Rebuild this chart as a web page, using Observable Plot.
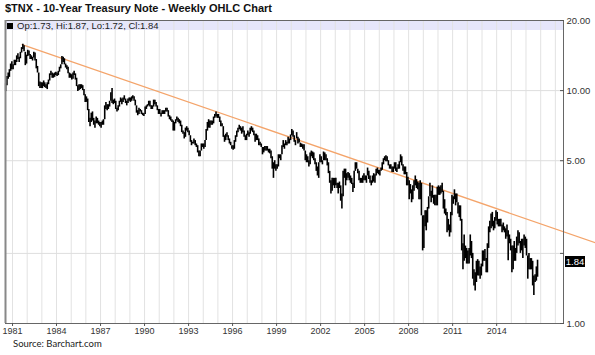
<!DOCTYPE html>
<html>
<head>
<meta charset="utf-8">
<script src="https://cdn.jsdelivr.net/npm/d3@7"></script>
<script src="https://cdn.jsdelivr.net/npm/@observablehq/plot@0.6"></script>
<style>
  body { margin: 0; background: #fff; }
  #wrap { position: relative; width: 595px; height: 355px; overflow: hidden; font-family: "Liberation Sans", Arial, sans-serif; }
  #band { position: absolute; left: 5px; top: 20px; width: 558px; height: 10px; background: #e6e6fa; }
  #chart { position: absolute; left: 0; top: 0; }
  #title { position: absolute; left: 5px; top: 3px; font-size: 11px; line-height: 11px; font-weight: bold; color: #111; white-space: nowrap; }
  #legend { position: absolute; left: 7px; top: 20.7px; font-size: 9.5px; line-height: 9.5px; color: #222; white-space: nowrap; }
  #legend .sq { display: inline-block; width: 6px; height: 6px; background: #000; margin-right: 4px; }
  #caption { position: absolute; left: 13px; top: 338.9px; font-family: Lato, "Liberation Sans", sans-serif; font-size: 9.5px; line-height: 9.5px; color: #222; white-space: nowrap; }
  #last { position: absolute; left: 565px; width: 20px; height: 11px; background: #000; color: #fff; font-size: 9.5px; line-height: 11px; text-align: center; }
</style>
</head>
<body>
<div id="wrap">
  <div id="band"></div>
  <div id="chart"></div>
  <div id="title"></div>
  <div id="legend"></div>
  <div id="caption"></div>
  <div id="last"></div>
</div>
<script>
// ---- Text ----
const titleText = "$TNX - 10-Year Treasury Note - Weekly OHLC Chart";
const captionText = "Source: Barchart.com";
const lastOpen = 1.73, lastHigh = 1.87, lastLow = 1.72, lastClose = 1.84;

// ---- Monthly low/high of the weekly bars, starting July 1980 ----
const startYear = 1980, startMonth = 6; // July (0-based)
const lows = [
  9.9, 10.5, 11.2, 11.4, 12.1, 12.3,
  12.3, 12.8, 12.8, 13.2, 13.6, 13.2, 13.7, 14.5, 15.0, 14.7, 12.8, 13.0,
  14.0, 14.1, 13.6, 13.6, 13.4, 13.8, 13.4, 12.4, 11.9, 10.4, 10.2, 10.2,
  10.2, 10.4, 10.3, 10.2, 10.1, 10.6, 11.0, 11.6, 11.3, 11.3, 11.4, 11.6,
  11.5, 11.6, 12.0, 12.4, 12.9, 13.2, 12.9, 12.5, 12.3, 11.8, 11.3, 11.3,
  11.1, 11.2, 11.6, 11.1, 10.4, 9.9, 10.0, 10.1, 10.2, 10.0, 9.5, 8.9,
  8.9, 8.2, 7.3, 7.0, 7.3, 7.4, 7.1, 6.9, 7.2, 7.2, 7.1, 7.0,
  6.9, 7.1, 7.1, 7.5, 8.3, 8.2, 8.3, 8.5, 9.0, 8.8, 8.7, 8.8,
  8.3, 8.1, 8.2, 8.5, 8.9, 8.7, 8.9, 9.1, 8.8, 8.6, 8.8, 9.0,
  8.9, 9.0, 9.2, 9.0, 8.6, 8.0, 7.8, 7.9, 8.1, 7.9, 7.8, 7.75,
  7.9, 8.3, 8.5, 8.6, 8.5, 8.3, 8.3, 8.5, 8.7, 8.5, 8.2, 7.9,
  7.9, 7.7, 7.9, 7.9, 7.9, 8.1, 8.1, 7.7, 7.5, 7.4, 7.3, 6.7,
  6.7, 7.2, 7.4, 7.3, 7.2, 7.0, 6.6, 6.5, 6.2, 6.3, 6.7, 6.6,
  6.4, 6.0, 5.8, 5.9, 5.9, 5.8, 5.7, 5.4, 5.2, 5.2, 5.5, 5.7,
  5.6, 5.7, 6.1, 6.7, 6.9, 6.9, 7.1, 7.1, 7.2, 7.6, 7.7, 7.6,
  7.6, 7.3, 7.0, 7.0, 6.3, 6.0, 6.1, 6.3, 6.1, 5.9, 5.8, 5.6,
  5.55, 5.6, 6.0, 6.3, 6.6, 6.8, 6.7, 6.5, 6.6, 6.3, 6.1, 6.1,
  6.4, 6.3, 6.5, 6.7, 6.6, 6.4, 6.0, 6.1, 6.1, 5.8, 5.8, 5.7,
  5.3, 5.4, 5.5, 5.5, 5.5, 5.4, 5.35, 5.1, 4.6, 4.2, 4.6, 4.5,
  4.6, 4.7, 5.1, 5.0, 5.3, 5.7, 5.6, 5.8, 5.8, 5.9, 5.9, 6.1,
  6.4, 6.3, 6.0, 5.8, 6.2, 5.9, 5.95, 5.7, 5.7, 5.6, 5.5, 5.0,
  4.9, 4.9, 4.7, 4.8, 5.2, 5.1, 5.0, 4.8, 4.5, 4.3, 4.2, 4.9,
  4.9, 4.8, 5.0, 5.0, 5.0, 4.75, 4.4, 4.0, 3.6, 3.7, 3.9, 3.8,
  3.9, 3.8, 3.6, 3.8, 3.35, 3.1, 3.5, 4.2, 3.9, 4.1, 4.2, 4.1,
  4.0, 3.95, 3.65, 3.8, 4.5, 4.6, 4.4, 4.1, 4.0, 4.0, 4.0, 4.1,
  4.1, 4.0, 4.3, 4.15, 4.0, 3.9, 4.0, 4.05, 4.0, 4.3, 4.4, 4.35,
  4.3, 4.5, 4.55, 4.8, 5.0, 4.95, 4.95, 4.75, 4.6, 4.6, 4.45, 4.45,
  4.6, 4.5, 4.45, 4.6, 4.6, 4.9, 4.75, 4.5, 4.35, 4.35, 3.9, 3.9,
  3.4, 3.6, 3.3, 3.4, 3.7, 3.9, 3.8, 3.75, 3.4, 3.4, 2.9, 2.05,
  2.1, 2.6, 2.5, 2.7, 3.1, 3.5, 3.3, 3.45, 3.25, 3.2, 3.2, 3.2,
  3.55, 3.55, 3.6, 3.65, 3.1, 2.95, 2.9, 2.45, 2.5, 2.35, 2.45, 2.9,
  3.25, 3.4, 3.2, 3.3, 2.95, 2.85, 2.75, 2.05, 1.7, 1.85, 1.9, 1.8,
  1.8, 1.8, 1.95, 1.9, 1.55, 1.45, 1.38, 1.5, 1.6, 1.6, 1.55, 1.6,
  1.75, 1.85, 1.85, 1.65, 1.65, 2.1, 2.45, 2.55, 2.6, 2.5, 2.55, 2.75,
  2.65, 2.6, 2.6, 2.6, 2.45, 2.5, 2.45, 2.3, 2.35, 1.86, 2.2, 2.05,
  1.65, 1.7, 1.85, 1.85, 2.0, 2.15, 2.2, 2.0, 2.05, 1.9, 2.15, 2.1,
  1.95, 1.55, 1.7, 1.7, 1.7, 1.45, 1.32, 1.5, 1.52, 1.58
];
const highs = [
  10.7, 11.5, 11.9, 12.3, 13.0, 13.3,
  12.9, 13.5, 13.5, 14.1, 14.4, 13.9, 14.6, 15.3, 15.8, 15.6, 14.6, 14.2,
  14.9, 14.8, 14.3, 14.1, 13.9, 14.6, 14.5, 13.6, 12.7, 11.9, 10.9, 10.8,
  10.8, 11.0, 10.8, 10.6, 10.8, 11.1, 11.8, 12.1, 11.9, 11.8, 11.9, 12.0,
  11.9, 12.1, 12.6, 12.9, 14.0, 13.9, 13.7, 13.0, 12.8, 12.6, 11.9, 11.8,
  11.7, 11.9, 12.1, 11.8, 11.3, 10.5, 10.6, 10.6, 10.6, 10.5, 10.1, 9.6,
  9.4, 9.2, 8.3, 7.6, 8.0, 8.1, 7.6, 7.4, 7.7, 7.6, 7.4, 7.3,
  7.3, 7.4, 7.5, 8.6, 8.9, 8.7, 8.7, 9.0, 9.8, 10.2, 9.1, 9.2,
  9.0, 8.4, 8.6, 9.0, 9.3, 9.2, 9.3, 9.5, 9.2, 9.0, 9.2, 9.3,
  9.3, 9.4, 9.5, 9.4, 9.1, 8.6, 8.2, 8.4, 8.3, 8.2, 8.0, 7.95,
  8.5, 8.6, 8.7, 9.0, 9.0, 8.6, 8.6, 9.1, 9.1, 8.9, 8.6, 8.3,
  8.3, 8.0, 8.2, 8.2, 8.2, 8.4, 8.4, 8.2, 7.8, 7.7, 7.5, 7.4,
  7.3, 7.5, 7.7, 7.6, 7.5, 7.4, 7.1, 6.7, 6.6, 6.9, 7.0, 6.9,
  6.7, 6.4, 6.1, 6.0, 6.2, 6.1, 5.9, 5.8, 5.5, 5.5, 5.9, 5.9,
  5.9, 6.1, 6.8, 7.3, 7.5, 7.4, 7.4, 7.4, 7.7, 7.9, 8.1, 7.9,
  7.9, 7.7, 7.4, 7.2, 7.0, 6.4, 6.5, 6.6, 6.4, 6.2, 6.0, 5.8,
  5.8, 6.1, 6.4, 6.7, 6.9, 7.1, 7.0, 6.9, 7.0, 6.7, 6.4, 6.5,
  6.7, 6.6, 6.9, 7.0, 6.9, 6.7, 6.5, 6.5, 6.4, 6.2, 6.0, 5.9,
  5.7, 5.7, 5.75, 5.75, 5.75, 5.6, 5.6, 5.5, 5.2, 4.9, 5.0, 4.8,
  4.8, 5.3, 5.3, 5.3, 5.8, 6.1, 5.9, 6.1, 6.0, 6.3, 6.2, 6.45,
  6.8, 6.7, 6.4, 6.1, 6.6, 6.3, 6.2, 5.95, 5.9, 5.85, 5.85, 5.5,
  5.3, 5.2, 5.0, 5.4, 5.5, 5.45, 5.4, 5.1, 4.9, 4.7, 4.9, 5.3,
  5.2, 5.0, 5.45, 5.4, 5.3, 5.1, 4.9, 4.5, 4.1, 4.2, 4.2, 4.2,
  4.2, 4.0, 4.0, 4.05, 3.9, 3.6, 4.5, 4.6, 4.6, 4.4, 4.45, 4.4,
  4.3, 4.2, 4.0, 4.5, 4.9, 4.9, 4.6, 4.5, 4.2, 4.2, 4.3, 4.4,
  4.3, 4.3, 4.65, 4.5, 4.3, 4.1, 4.3, 4.4, 4.35, 4.6, 4.65, 4.55,
  4.55, 4.65, 4.9, 5.1, 5.2, 5.25, 5.2, 5.0, 4.8, 4.8, 4.7, 4.7,
  4.9, 4.9, 4.65, 4.8, 4.95, 5.3, 5.2, 4.8, 4.7, 4.7, 4.45, 4.25,
  4.1, 3.95, 3.75, 3.9, 4.1, 4.3, 4.15, 4.05, 4.0, 4.1, 4.0, 2.9,
  2.9, 3.05, 3.05, 3.15, 3.5, 4.0, 3.7, 3.9, 3.55, 3.55, 3.55, 3.85,
  3.9, 3.85, 3.9, 4.0, 3.7, 3.4, 3.1, 3.0, 2.8, 2.65, 3.0, 3.55,
  3.5, 3.75, 3.6, 3.6, 3.3, 3.2, 3.2, 2.8, 2.2, 2.4, 2.15, 2.1,
  2.05, 2.1, 2.4, 2.25, 2.0, 1.7, 1.65, 1.85, 1.88, 1.85, 1.75, 1.8,
  2.05, 2.05, 2.08, 1.9, 2.2, 2.6, 2.75, 2.95, 3.0, 2.75, 2.85, 3.05,
  3.0, 2.8, 2.8, 2.8, 2.65, 2.7, 2.6, 2.55, 2.65, 2.5, 2.4, 2.3,
  2.15, 2.15, 2.25, 2.1, 2.35, 2.5, 2.45, 2.25, 2.3, 2.3, 2.4, 2.35,
  2.3, 1.95, 2.0, 1.9, 1.9, 1.85, 1.6, 1.62, 1.75, 1.87
];

// ---- Trend line (two anchor points) ----
const trendDates = ["1981-08-29", "2020-09-27"];
const trendValues = [15.77, 2.22];

// ---- Axes ----
const xDomainDates = ["1980-07-10", "2018-07-23"];
const xLabelYears = [1981, 1984, 1987, 1990, 1993, 1996, 1999, 2002, 2005, 2008, 2011, 2014];
const xGridYears = [1981,1982,1983,1984,1985,1986,1987,1988,1989,1990,1991,1992,1993,1994,1995,1996,1997,1998,1999,2000,2001,2002,2003,2004,2005,2006,2007,2008,2009,2010,2011,2012,2013,2014,2015,2016,2017,2018];
const yLabelValues = [1, 5, 10, 20];
const yTickValues = [1, 2, 5, 10, 20];
const yGridValues = [2, 5, 10];

// ---- Build tables ----
const bars = lows.map((lo, i) => ({
  date: new Date(Date.UTC(startYear, startMonth + i, 15)),
  low: lo,
  high: highs[i]
}));
const trend = trendDates.map((d, i) => ({date: new Date(d + "T00:00:00Z"), value: trendValues[i]}));
const yearDate = y => new Date(Date.UTC(y, 0, 1));
const xStart = new Date(xDomainDates[0] + "T00:00:00Z");
const xEnd = new Date(xDomainDates[1] + "T00:00:00Z");

document.getElementById("title").textContent = titleText;
document.getElementById("caption").textContent = captionText;
const leg = document.getElementById("legend");
const sq = document.createElement("span"); sq.className = "sq"; leg.appendChild(sq);
leg.appendChild(document.createTextNode(`Op:${lastOpen.toFixed(2)}, Hi:${lastHigh.toFixed(2)}, Lo:${lastLow.toFixed(2)}, Cl:${lastClose.toFixed(2)}`));

const chart = Plot.plot({
  width: 595,
  height: 355,
  marginTop: 20,
  marginBottom: 32,
  marginLeft: 5,
  marginRight: 32,
  style: {background: "transparent", fontFamily: "Liberation Sans, Arial, sans-serif", fontSize: "9px", overflow: "visible"},
  x: {type: "utc", domain: [xStart, xEnd]},
  y: {type: "log", domain: [1, 20]},
  marks: [
    Plot.gridX(xGridYears.map(yearDate), {stroke: "#e2e2e2", strokeOpacity: 1}),
    Plot.gridY(yGridValues, {stroke: "#dedede", strokeOpacity: 1}),
    Plot.line(trend, {x: "date", y: "value", stroke: "#f4a46a", strokeWidth: 1.3}),
    Plot.ruleX(bars, {x: "date", y1: "low", y2: "high", stroke: "#000", strokeWidth: 1.6}),
    Plot.frame({stroke: "#666"}),
    Plot.ruleX([xStart], {stroke: "#888", strokeWidth: 2}),
    Plot.axisX(xLabelYears.map(yearDate), {tickFormat: "%Y", tickSize: 3, tickPadding: 1, label: null, fill: "#333", stroke: "#555"}),
    Plot.axisY(yTickValues, {anchor: "right", tickSize: -4, fill: "none", stroke: "#555", label: null}),
    Plot.axisY(yLabelValues, {anchor: "right", tickSize: 0, tickPadding: 3, tickFormat: d => d.toFixed(2), fill: "#333", label: null, fontSize: 9.5})
  ]
});
document.getElementById("chart").appendChild(chart);

// last-price box placed through the chart's own y scale
const yPx = chart.scale("y").apply(lastClose);
const last = document.getElementById("last");
last.textContent = lastClose.toFixed(2);
last.style.top = (yPx - 5.5) + "px";
</script>
</body>
</html>
